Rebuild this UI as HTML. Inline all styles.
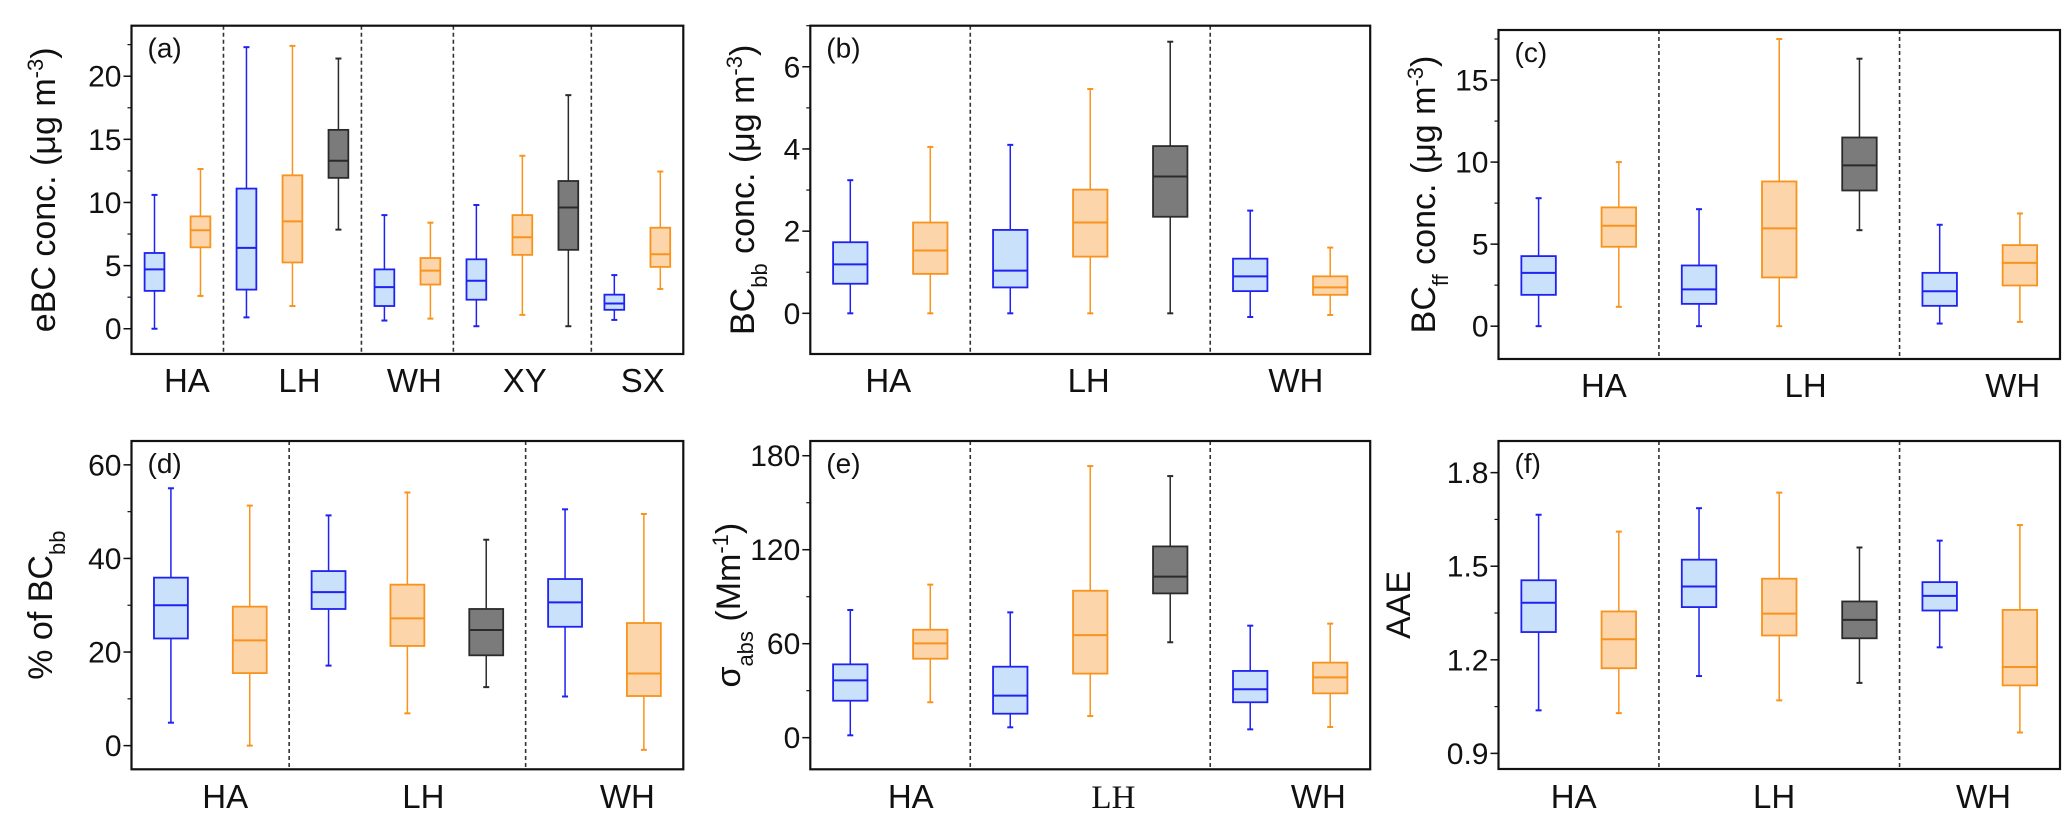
<!DOCTYPE html>
<html><head><meta charset="utf-8"><style>
html,body{margin:0;padding:0;background:#fff;}
svg{display:block;font-family:"Liberation Sans",Arial,sans-serif;}
</style></head><body>
<svg id="fig" width="2067" height="829" viewBox="0 0 2067 829" xmlns="http://www.w3.org/2000/svg"></svg>
<script>
// ---- data: [whiskerHigh, Q3, median, Q1, whiskerLow] per box ----
const seriesA = [[10.6,6.0,4.7,3.0,0],[12.65,8.9,7.8,6.45,2.6],[22.3,11.1,6.4,3.1,0.9],[22.4,12.15,8.5,5.25,1.8],[21.4,15.75,13.3,11.95,7.85],[9.0,4.7,3.3,1.8,0.65],[8.4,5.6,4.6,3.5,0.8],[9.8,5.5,3.8,2.3,0.2],[13.7,9.0,7.25,5.85,1.1],[18.5,11.7,9.6,6.25,0.2],[4.25,2.7,2.0,1.5,0.7],[12.45,8.0,5.9,4.9,3.15]];
const colorsA = ["b","o","b","o","k","b","o","b","o","k","b","o"];
const seriesB = [[3.24,1.73,1.19,0.72,0],[4.05,2.21,1.53,0.96,0],[4.1,2.03,1.04,0.63,0],[5.46,3.01,2.21,1.38,0],[6.61,4.07,3.33,2.35,0],[2.5,1.33,0.9,0.54,-0.09],[1.6,0.9,0.63,0.45,-0.04]];
const seriesC = [[7.8,4.27,3.25,1.91,0],[10.0,7.24,6.12,4.84,1.18],[7.13,3.7,2.24,1.36,0],[17.5,8.82,5.96,2.97,0],[16.3,11.5,9.8,8.27,5.85],[6.18,3.25,2.13,1.24,0.16],[6.87,4.94,3.86,2.48,0.26]];
const seriesD = [[55,35.9,30.0,22.9,4.9],[51.3,29.7,22.5,15.5,0],[49.2,37.3,32.8,29.2,17.1],[54.1,34.4,27.2,21.3,6.9],[44.0,29.2,24.7,19.3,12.5],[50.5,35.6,30.6,25.4,10.5],[49.5,26.2,15.4,10.6,-0.9]];
const seriesE = [[81.5,46.8,36.6,23.6,1.5],[97.7,68.9,60.2,50.4,22.6],[80,45.3,26.8,15.3,6.6],[173.4,93.8,65.5,40.9,13.8],[167,122.1,102.8,92.1,60.9],[71.5,42.6,30.9,22.6,5.3],[72.8,47.9,38.5,28.3,6.8]];
const seriesF = [[1.665,1.455,1.383,1.289,1.038],[1.611,1.355,1.266,1.173,1.029],[1.686,1.521,1.435,1.369,1.148],[1.736,1.46,1.348,1.278,1.07],[1.56,1.387,1.328,1.269,1.126],[1.582,1.449,1.405,1.358,1.24],[1.632,1.36,1.177,1.118,0.967]];
const colors7 = ["b","o","b","o","k","b","o"];
const catsA = ["HA","LH","WH","XY","SX"];
const cats3 = ["HA","LH","WH"];
const ticksA = [0,5,10,15,20];
const ticksB = [0,2,4,6];
const ticksC = [0,5,10,15];
const ticksD = [0,20,40,60];
const ticksE = [0,60,120,180];
const ticksF = [0.9,1.2,1.5,1.8];
const tickLabelsF = ["0.9","1.2","1.5","1.8"];

const NS="http://www.w3.org/2000/svg";
const svg=document.getElementById('fig');
function mk(tag,attrs,parent){const e=document.createElementNS(NS,tag);for(const k in attrs)e.setAttribute(k,attrs[k]);(parent||svg).appendChild(e);return e;}
const STY={b:{s:"#1f22f0",f:"#c9e1fb"},o:{s:"#f7931e",f:"#fdd5aa"},k:{s:"#2b2b2b",f:"#7b7b7b"}};

const panels=[
 {id:"a",x0:131.5,x1:683.3,y0:25.7,y1:354,vmin:-2,vmax:24,data:seriesA,cols:colorsA,ticks:ticksA,tl:null,minor:2.5,div:[2,5,7,10],cats:catsA,catX:[0.1004,0.3045,0.5127,0.7127,0.9265],catY:392,title:[["eBC conc. (μg m",0],["-3",1],[")",0]],titleX:43},
 {id:"b",x0:810.3,x1:1370.2,y0:25.7,y1:354,vmin:-0.99,vmax:7.0,data:seriesB,cols:colors7,ticks:ticksB,tl:null,minor:1,div:[2,5],cats:cats3,catX:[0.1392,0.4972,0.8673],catY:392,title:[["BC",0],["bb",-1],[" conc. (μg m",0],["-3",1],[")",0]],titleX:742},
 {id:"c",x0:1498.5,x1:2060,y0:30,y1:359,vmin:-2,vmax:18.05,data:seriesC,cols:colors7,ticks:ticksC,tl:null,minor:2.5,div:[2,5],cats:cats3,catX:[0.1877,0.5469,0.9158],catY:397,title:[["BC",0],["ff",-1],[" conc. (μg m",0],["-3",1],[")",0]],titleX:1423},
 {id:"d",x0:131.5,x1:683.3,y0:441,y1:769.3,vmin:-5.06,vmax:65.1,data:seriesD,cols:colors7,ticks:ticksD,tl:null,minor:10,div:[2,5],cats:cats3,catX:[0.1698,0.5290,0.8987],catY:808,title:[["% of BC",0],["bb",-1]],titleX:40},
 {id:"e",x0:810.3,x1:1370.2,y0:441,y1:769.3,vmin:-20.2,vmax:189.4,data:seriesE,cols:colors7,ticks:ticksE,tl:null,minor:30,div:[2,5],cats:cats3,catX:[0.1794,0.5414,0.9075],catY:808,serifLH:true,title:[["σ",0],["abs",-1],["  (Mm",0],["-1",1],[")",0]],titleX:728},
 {id:"f",x0:1498.5,x1:2060,y0:441,y1:769,vmin:0.85,vmax:1.9014,data:seriesF,cols:colors7,ticks:ticksF,tl:tickLabelsF,minor:0.15,div:[2,5],cats:cats3,catX:[0.1339,0.4908,0.8637],catY:808,title:[["AAE",0]],titleX:1398}
];

panels.forEach(p=>{
  const g=mk('g',{});
  
  
  const n=p.data.length, slot=(p.x1-p.x0)/n;
  const X=i=>p.x0+slot*(i+0.5);
  const Y=v=>p.y1-(v-p.vmin)/(p.vmax-p.vmin)*(p.y1-p.y0);
  p.div.forEach(d=>{
    const l=mk('line',{x1:p.x0+slot*d,x2:p.x0+slot*d,y1:p.y0,y2:p.y1,stroke:"#333","stroke-width":1.6,"stroke-dasharray":"4,3"},g);
    
    
  });
  const bw=slot*0.43;
  p.data.forEach((d,i)=>{
    const c=STY[p.cols[i]], cx=X(i);
    const bg=mk('g',{},g);
    
    
    mk('line',{x1:cx,x2:cx,y1:Y(d[0]),y2:Y(d[4]),stroke:c.s,"stroke-width":1.5},bg);
    mk('line',{x1:cx-3,x2:cx+3,y1:Y(d[0]),y2:Y(d[0]),stroke:c.s,"stroke-width":2},bg);
    mk('line',{x1:cx-3,x2:cx+3,y1:Y(d[4]),y2:Y(d[4]),stroke:c.s,"stroke-width":2},bg);
    mk('rect',{x:cx-bw/2,y:Y(d[1]),width:bw,height:Y(d[3])-Y(d[1]),fill:c.f,stroke:c.s,"stroke-width":1.8},bg);
    mk('line',{x1:cx-bw/2,x2:cx+bw/2,y1:Y(d[2]),y2:Y(d[2]),stroke:c.s,"stroke-width":2},bg);
  });
  const fr=mk('rect',{x:p.x0,y:p.y0,width:p.x1-p.x0,height:p.y1-p.y0,fill:"none",stroke:"#111","stroke-width":2.2},g);
  
  
  for(let v=Math.ceil(p.vmin/p.minor)*p.minor; v<=p.vmax; v+=p.minor){
    mk('line',{x1:p.x0-4,x2:p.x0,y1:Y(v),y2:Y(v),stroke:"#111","stroke-width":1.2},g);
  }
  p.ticks.forEach((v,k)=>{
    mk('line',{x1:p.x0-8,x2:p.x0,y1:Y(v),y2:Y(v),stroke:"#111","stroke-width":1.5},g);
    const t=mk('text',{x:p.x0-10,y:Y(v)+10.5,"text-anchor":"end","font-size":30,fill:"#111"},g);
    t.textContent=p.tl?p.tl[k]:String(v);
    
    
  });
  const pl=mk('text',{x:p.x0+16,y:p.y0+32,"font-size":28,fill:"#111"},g);
  pl.textContent='('+p.id+')';
  
  
  p.cats.forEach((c,k)=>{
    const t=mk('text',{x:p.x0+p.catX[k]*(p.x1-p.x0),y:p.catY,"text-anchor":"middle","font-size":33,fill:"#111"},g);
    if(p.serifLH&&c==="LH")t.setAttribute('font-family','"Liberation Serif",serif');
    t.textContent=c;
    
    
  });
  const cy=(p.y0+p.y1)/2;
  const tt=mk('text',{x:0,y:0,"text-anchor":"middle","font-size":34,fill:"#111",transform:`translate(${p.titleX+12},${cy}) rotate(-90)`},g);
  
  
  p.title.forEach(([s,sh])=>{
    const ts=mk('tspan',{},tt);
    if(sh!==0){ts.setAttribute('font-size',22);ts.setAttribute('baseline-shift',sh>0?'super':'sub');}
    ts.textContent=s;
  });
});
</script>
</body></html>
